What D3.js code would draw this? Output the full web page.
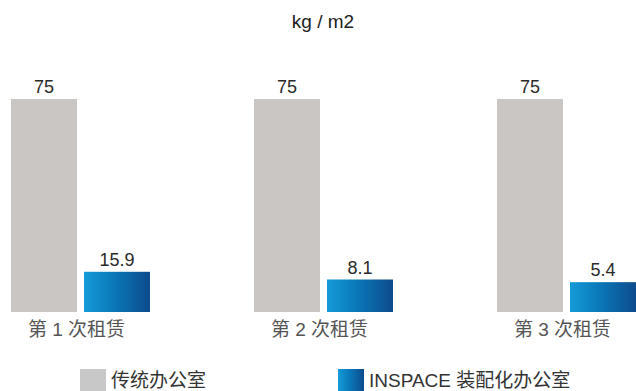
<!DOCTYPE html>
<html>
<head>
<meta charset="utf-8">
<script src="https://cdn.jsdelivr.net/npm/d3@7"></script>
<style>
  html, body { margin: 0; padding: 0; background: #fff; }
  svg { display: block; }
  text { font-family: "Liberation Sans", "Noto Sans CJK SC", sans-serif; }
</style>
</head>
<body>
<svg id="chart" width="636" height="391"></svg>
<script>
// ---- data ----
const categories = ["第 1 次租赁", "第 2 次租赁", "第 3 次租赁"];
const seriesNames = ["传统办公室", "INSPACE 装配化办公室"];
const traditional = [75, 75, 75];
const inspace = [15.9, 8.1, 5.4];
const unitLabel = "kg / m2";

// ---- layout ----
const baseline = 312;
const svg = d3.select("#chart");

const defs = svg.append("defs");
const grad = defs.append("linearGradient").attr("id", "blueGrad")
  .attr("x1", "0%").attr("x2", "100%").attr("y1", "0%").attr("y2", "0%");
grad.append("stop").attr("offset", "0%").attr("stop-color", "#159bd8");
grad.append("stop").attr("offset", "45%").attr("stop-color", "#0a78b8");
grad.append("stop").attr("offset", "100%").attr("stop-color", "#0d4b8d");

const colors = ["#c9c6c3", "url(#blueGrad)"];

// group band scale
const x0 = d3.scaleBand().domain(categories).range([11, 11 + 243 * 3]).paddingInner(0).paddingOuter(0);
// bars within group
const x1 = d3.scaleBand().domain([0, 1]).range([0, 139]).paddingInner(7 / 73);

// the source uses a compressed (broken) value axis
const hScale = d3.scaleLinear().domain([0, 16, 75]).range([24.5, 40.3, 213]);

const rows = categories.map((c, i) => ({ cat: c, vals: [traditional[i], inspace[i]] }));

const g = svg.append("g");
const groups = g.selectAll("g.grp").data(rows).join("g")
  .attr("class", "grp")
  .attr("transform", d => `translate(${x0(d.cat)},0)`);

groups.selectAll("rect").data(d => d.vals.map((v, k) => ({ v, k }))).join("rect")
  .attr("x", d => x1(d.k))
  .attr("width", x1.bandwidth())
  .attr("y", d => baseline - hScale(d.v))
  .attr("height", d => hScale(d.v))
  .attr("fill", d => colors[d.k]);

groups.selectAll("text.val").data(d => d.vals.map((v, k) => ({ v, k }))).join("text")
  .attr("class", "val")
  .attr("x", d => x1(d.k) + x1.bandwidth() / 2)
  .attr("y", d => baseline - hScale(d.v) - 6)
  .attr("text-anchor", "middle")
  .attr("font-size", 18)
  .attr("fill", "#2a2a2a")
  .text(d => d.v);

groups.append("text")
  .attr("x", 139 / 2 - 4)
  .attr("y", 336)
  .attr("text-anchor", "middle")
  .attr("font-size", 19)
  .attr("fill", "#555")
  .text(d => d.cat);

// unit title
svg.append("text")
  .attr("x", 323).attr("y", 28)
  .attr("text-anchor", "middle")
  .attr("font-size", 19)
  .attr("fill", "#222")
  .text(unitLabel);

// legend
const legendX = [80, 338];
const leg = svg.selectAll("g.leg").data(seriesNames).join("g")
  .attr("class", "leg")
  .attr("transform", (d, i) => `translate(${legendX[i]},369)`);
leg.append("rect").attr("width", 26).attr("height", 22)
  .attr("fill", (d, i) => i === 0 ? "#c8c8c8" : colors[1]);
leg.append("text").attr("x", 31).attr("y", 18)
  .attr("font-size", 19).attr("fill", "#333")
  .text(d => d);
</script>
</body>
</html>
